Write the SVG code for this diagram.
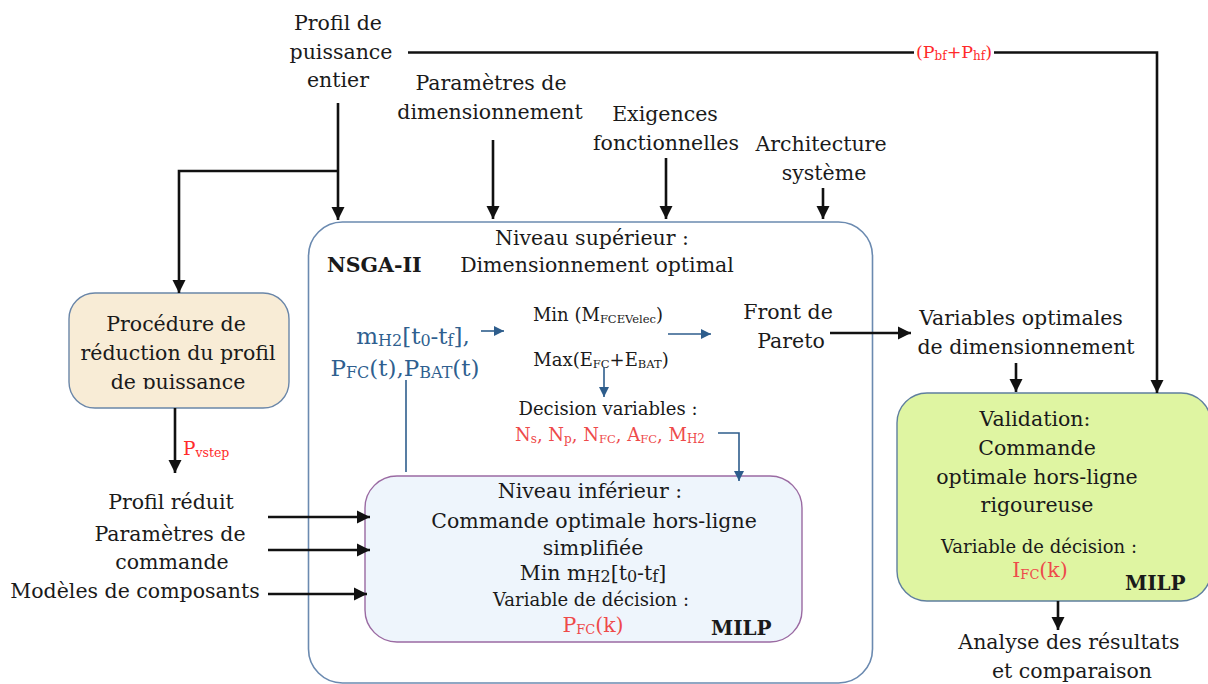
<svg xmlns="http://www.w3.org/2000/svg" width="1208" height="684" viewBox="0 0 1208 684">
<style>
text{font-family:"DejaVu Serif","Liberation Serif",serif;fill:#1a1a1a;font-size:20.5px;text-anchor:middle}
.s{font-size:18px}
.b{font-weight:bold;font-size:19px;text-anchor:start}
.red{fill:#ff2a2a}
.lred{fill:#ee4a4a}
.blu{fill:#2f5f8f;font-size:23px}
.k{fill:none;stroke:#111;stroke-width:2.6}
.bl{fill:none;stroke:#2e5d8c;stroke-width:1.6}
</style>
<defs>
<marker id="ak" viewBox="0 0 10 10" refX="10" refY="5" markerWidth="13" markerHeight="14" markerUnits="userSpaceOnUse" orient="auto"><path d="M0,0 L10,5 L0,10 z" fill="#111"/></marker>
<marker id="ab" viewBox="0 0 10 10" refX="10" refY="5" markerWidth="10" markerHeight="10" markerUnits="userSpaceOnUse" orient="auto"><path d="M0,0 L10,5 L0,10 z" fill="#2e5d8c"/></marker>
<clipPath id="c1"><rect x="60" y="290" width="240" height="99"/></clipPath>
<clipPath id="c2"><rect x="360" y="470" width="450" height="86"/></clipPath>
</defs>

<g id="inputs-top">
<text x="338" y="30">Profil de</text>
<text x="341" y="59">puissance</text>
<text x="338" y="87">entier</text>
<text x="491" y="90">Paramètres de</text>
<text x="490" y="119">dimensionnement</text>
<text x="665" y="121">Exigences</text>
<text x="666" y="150">fonctionnelles</text>
<text x="821" y="151">Architecture</text>
<text x="824" y="180">système</text>
</g>

<g id="nsga">
<rect x="308.5" y="222" width="564" height="461" rx="34" fill="#fff" stroke="#6b8ab0" stroke-width="1.6"/>
<text x="592" y="245">Niveau supérieur :</text>
<text x="597" y="272">Dimensionnement optimal</text>
<text class="b" x="327" y="272" style="font-size:20.5px">NSGA-II</text>
<text class="blu" x="413" y="344">m<tspan font-size="16" dy="2">H2</tspan><tspan dy="-2">[t</tspan><tspan font-size="16" dy="2">0</tspan><tspan dy="-2">-t</tspan><tspan font-size="16" dy="2">f</tspan><tspan dy="-2">],</tspan></text>
<text class="blu" x="405" y="376">P<tspan font-size="16" dy="2">FC</tspan><tspan dy="-2">(t),P</tspan><tspan font-size="16" dy="2">BAT</tspan><tspan dy="-2">(t)</tspan></text>
<text class="s" x="598" y="321">Min (M<tspan font-size="11.5" dy="2">FCEVelec</tspan><tspan dy="-2">)</tspan></text>
<text class="s" x="601" y="366">Max(E<tspan font-size="11.5" dy="2">FC</tspan><tspan dy="-2">+E</tspan><tspan font-size="11.5" dy="2">BAT</tspan><tspan dy="-2">)</tspan></text>
<text class="s" x="608" y="415">Decision variables :</text>
<text class="s lred" x="610" y="441">N<tspan font-size="12" dy="2">s</tspan><tspan dy="-2">, N</tspan><tspan font-size="12" dy="2">p</tspan><tspan dy="-2">, N</tspan><tspan font-size="11.5" dy="2">FC</tspan><tspan dy="-2">, A</tspan><tspan font-size="11.5" dy="2">FC</tspan><tspan dy="-2">, M</tspan><tspan font-size="12" dy="2">H2</tspan></text>
<text x="788" y="319">Front de</text>
<text x="791" y="348">Pareto</text>
</g>

<g id="reduction">
<rect x="69" y="293" width="220" height="115" rx="26" fill="#f8ecd6" stroke="#6a86a8" stroke-width="1.4"/>
<g clip-path="url(#c1)">
<text x="176" y="331">Procédure de</text>
<text x="178" y="360">réduction du profil</text>
<text x="178" y="389">de puissance</text>
</g>
</g>

<g id="inputs-left">
<text class="red" x="183" y="455" style="text-anchor:start;font-size:18.5px">P<tspan font-size="12.5" dy="2">vstep</tspan></text>
<text x="171" y="509">Profil réduit</text>
<text x="170" y="541">Paramètres de</text>
<text x="172" y="569">commande</text>
<text x="135" y="598">Modèles de composants</text>
</g>

<g id="lower">
<rect x="365" y="476" width="437" height="166" rx="32" fill="#eef5fc" stroke="#9a6aa2" stroke-width="1.4"/>
<text x="590" y="498">Niveau inférieur :</text>
<text x="594" y="528">Commande optimale hors-ligne</text>
<g clip-path="url(#c2)"><text x="593" y="555">simplifiée</text></g>
<text x="593" y="580">Min m<tspan font-size="16" dy="2">H2</tspan><tspan dy="-2">[t</tspan><tspan font-size="16" dy="2">0</tspan><tspan dy="-2">-t</tspan><tspan font-size="16" dy="2">f</tspan><tspan dy="-2">]</tspan></text>
<text class="s" x="591" y="606">Variable de décision :</text>
<text class="lred" x="593" y="632">P<tspan font-size="13" dy="2">FC</tspan><tspan dy="-2">(k)</tspan></text>
<text class="b" x="711" y="635" style="font-size:20px">MILP</text>
</g>

<g id="validation">
<rect x="897" y="393" width="314" height="208" rx="30" fill="#dff5a2" stroke="#5f7f9f" stroke-width="1.4"/>
<text x="1035" y="426">Validation:</text>
<text x="1037" y="455">Commande</text>
<text x="1037" y="484">optimale hors-ligne</text>
<text x="1037" y="512">rigoureuse</text>
<text class="s" x="1039" y="553">Variable de décision :</text>
<text class="lred" x="1040" y="577">I<tspan font-size="13" dy="2">FC</tspan><tspan dy="-2">(k)</tspan></text>
<text class="b" x="1125" y="590" style="font-size:20px">MILP</text>
</g>

<g id="outputs">
<text x="1021" y="325">Variables optimales</text>
<text x="1026" y="354">de dimensionnement</text>
<text x="1069" y="649">Analyse des résultats</text>
<text x="1072" y="678">et comparaison</text>
<text class="red" x="954" y="58" style="font-size:17.5px">(P<tspan font-size="12" dy="2">bf</tspan><tspan dy="-2">+P</tspan><tspan font-size="12" dy="2">hf</tspan><tspan dy="-2">)</tspan></text>
</g>

<g id="connectors">
<path class="k" d="M338,103 V220" marker-end="url(#ak)"/>
<path class="k" d="M338,171 H179 V293" marker-end="url(#ak)"/>
<path class="k" d="M408,52.5 H914"/>
<path class="k" d="M994,52.5 H1157 V393" marker-end="url(#ak)"/>
<path class="k" d="M493,140 V219" marker-end="url(#ak)"/>
<path class="k" d="M666,158 V219" marker-end="url(#ak)"/>
<path class="k" d="M823,188 V219" marker-end="url(#ak)"/>
<path class="k" d="M830,333 H911" marker-end="url(#ak)"/>
<path class="k" d="M1016,363 V392" marker-end="url(#ak)"/>
<path class="k" d="M175,408 V473" marker-end="url(#ak)"/>
<path class="k" d="M268,517 H370" marker-end="url(#ak)"/>
<path class="k" d="M268,550 H370" marker-end="url(#ak)"/>
<path class="k" d="M268,594 H367" marker-end="url(#ak)"/>
<path class="k" d="M1058,601 V630" marker-end="url(#ak)"/>
<path class="bl" d="M481,331 H504" marker-end="url(#ab)"/>
<path class="bl" d="M668,334 H711" marker-end="url(#ab)"/>
<path class="bl" d="M604,367 V397" marker-end="url(#ab)"/>
<path class="bl" d="M718,433 H739 V481" marker-end="url(#ab)"/>
<path class="bl" d="M406,380 V472"/>
</g>
</svg>
